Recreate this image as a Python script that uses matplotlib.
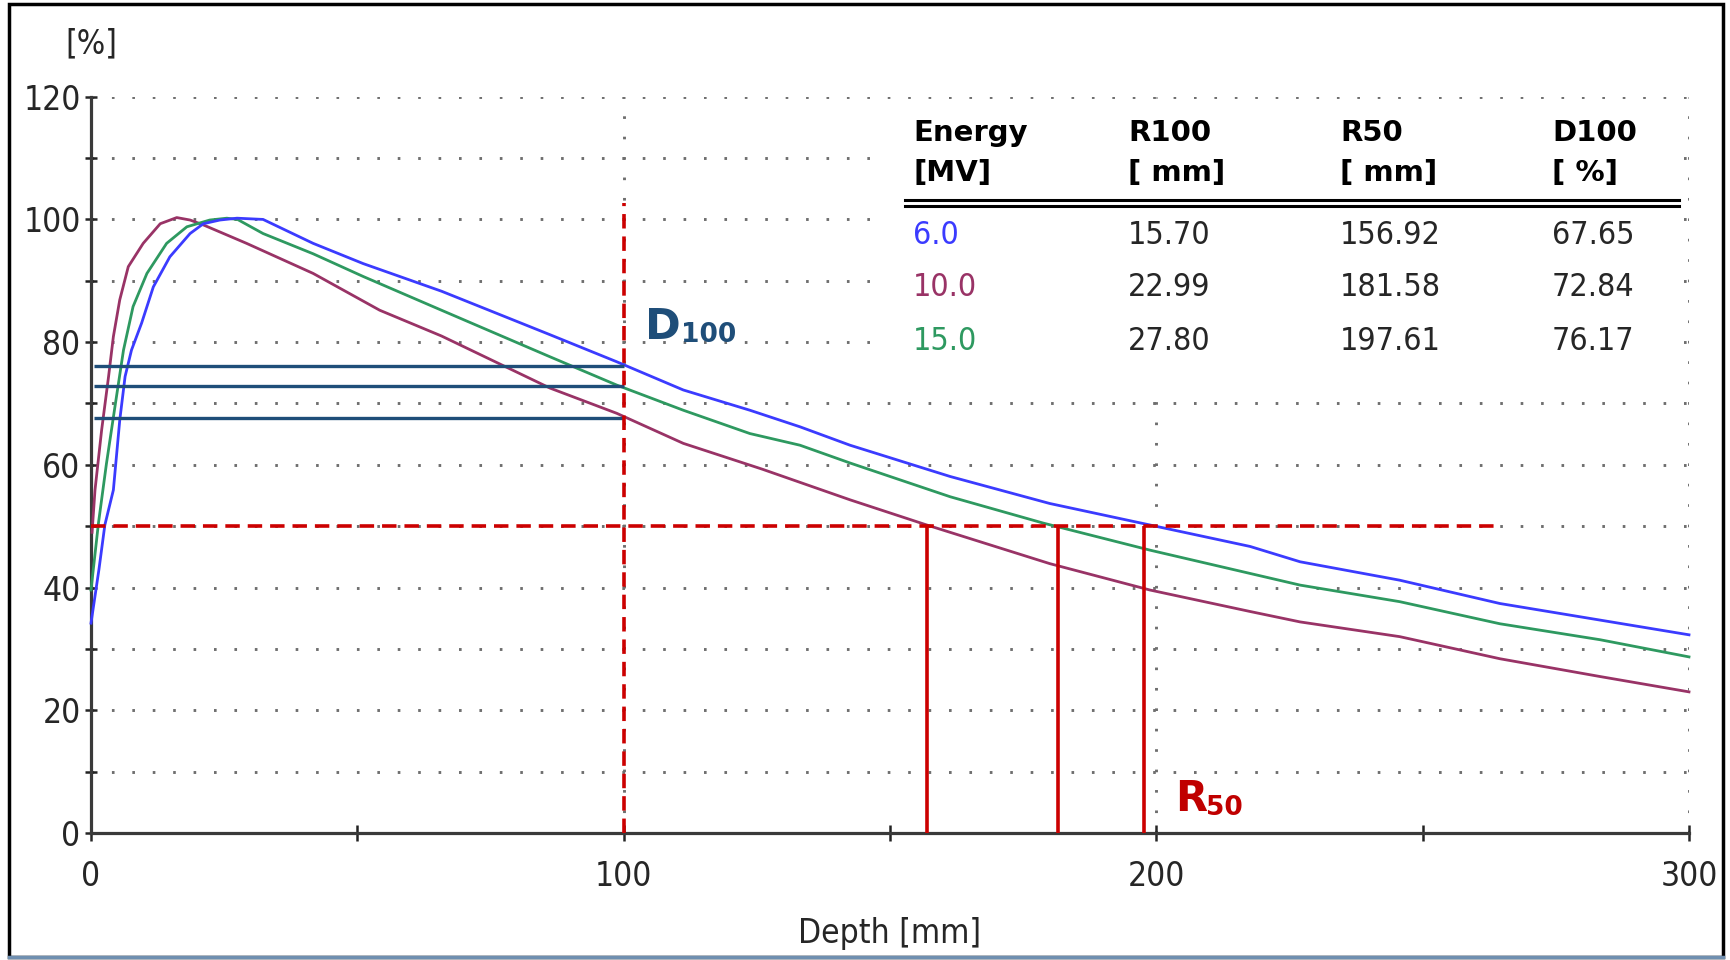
import matplotlib
matplotlib.use("Agg")
import matplotlib.pyplot as plt
from matplotlib.patches import Rectangle
from matplotlib.lines import Line2D
from matplotlib.ticker import MultipleLocator

# depth dose curves (depth in mm, dose in %)
blue_x = [0, 1.5, 2.6, 4.2, 5.4, 6.4, 7.6, 9.5, 11.7, 14.8, 18.6, 21.1, 24.2, 27.4, 32.3, 41.7, 51.1,
          65.8, 86.2, 98.7, 111.2, 123.7, 133.1, 142.5, 161.3, 180.0, 198.8, 217.6, 227.0, 245.7,
          264.5, 283.3, 300]
blue_y = [34.2, 43.0, 50.2, 55.9, 67.3, 74.4, 78.7, 83.1, 89.0, 93.9, 97.7, 99.3, 99.9, 100.2, 100.0,
          96.1, 92.8, 88.3, 81.2, 76.8, 72.2, 68.9, 66.2, 63.2, 58.1, 53.7, 50.2, 46.7, 44.2, 41.2,
          37.4, 34.7, 32.3]

green_x = [0, 1.4, 2.9, 4.5, 6.1, 7.9, 10.5, 14.2, 18.0, 22.3, 25.5, 27.5, 32.3, 41.7, 51.1, 65.8,
           86.2, 98.7, 111.2, 123.7, 133.1, 142.5, 161.3, 178.8, 198.8, 217.6, 227.0, 245.7, 264.5,
           283.3, 300]
green_y = [39.6, 50.5, 60.2, 69.5, 78.7, 85.8, 91.2, 96.1, 98.8, 99.9, 100.2, 100.0, 97.7, 94.4, 90.7,
           85.2, 77.6, 73.0, 68.9, 65.1, 63.2, 60.3, 54.8, 50.5, 46.1, 42.3, 40.4, 37.7, 34.1, 31.5,
           28.7]

purple_x = [0.2, 0.75, 2.0, 3.3, 4.2, 5.4, 7.0, 9.8, 13.0, 16.1, 18.6, 21.1, 29.2, 41.7, 54.2, 65.8,
            86.2, 98.7, 111.2, 126.0, 142.5, 156.9, 180.0, 198.8, 217.6, 227.0, 245.7, 264.5, 283.3,
            300]
purple_y = [49.0, 55.9, 65.7, 74.4, 80.9, 86.9, 92.3, 96.1, 99.3, 100.3, 99.9, 99.1, 96.1, 91.2, 85.2,
            81.0, 72.5, 68.4, 63.5, 59.3, 54.3, 50.2, 43.9, 39.6, 36.1, 34.4, 32.0, 28.4, 25.5, 23.0]

# table values
energies = ["6.0", "10.0", "15.0"]
r100 = ["15.70", "22.99", "27.80"]
r50 = [156.92, 181.58, 197.61]
d100 = [67.65, 72.84, 76.17]
energy_colors = ["#3b3bff", "#993366", "#2e9960"]

# narrow text like the plotting software uses
cond = dict(family="DejaVu Sans", fontstretch="condensed")
txt_col = "#262626"

fig = plt.figure(figsize=(17.3, 9.6), dpi=100)
ax = fig.add_axes([91 / 1730, 1 - 833 / 960, 1598 / 1730, 736.3 / 960])
ax.set_xlim(0, 300)
ax.set_ylim(0, 120)

# axes and ticks
for s in ["top", "right"]:
    ax.spines[s].set_visible(False)
for s in ["left", "bottom"]:
    ax.spines[s].set_color("#3a3a3a")
    ax.spines[s].set_linewidth(2.3)
ax.xaxis.set_major_locator(MultipleLocator(100))
ax.xaxis.set_minor_locator(MultipleLocator(50))
ax.yaxis.set_major_locator(MultipleLocator(20))
ax.yaxis.set_minor_locator(MultipleLocator(10))
ax.tick_params(which="both", direction="inout", length=11, width=1.8, color="#222222")
ax.tick_params(axis="y", which="both", length=9)
ax.tick_params(labelsize=24, colors=txt_col)
ax.tick_params(axis="x", pad=14)
ax.tick_params(axis="y", pad=3)
for lab in ax.get_xticklabels() + ax.get_yticklabels():
    lab.set_fontstretch("condensed")

# dotted grid
ax.set_axisbelow(True)
ax.grid(axis="y", which="both", color="#6e6e6e", linestyle=(0, (0.9, 6.1)), linewidth=2.1)
ax.grid(axis="x", which="major", color="#6e6e6e", linestyle=(0, (0.9, 6.1)), linewidth=2.1)

# white box behind the table
ax.add_patch(Rectangle((148.7, 71.9), 148.3, 46.7, facecolor="white", edgecolor="none", zorder=1))

# curves
ax.plot(purple_x, purple_y, color="#993366", lw=2.0, zorder=3, clip_on=False)
ax.plot(green_x, green_y, color="#2e9960", lw=2.0, zorder=3, clip_on=False)
ax.plot(blue_x, blue_y, color="#3b3bff", lw=2.0, zorder=3, clip_on=False)

# D100 markers
for v in d100:
    ax.plot([0.5, 100], [v, v], color="#1f4e79", lw=2.4, zorder=4, solid_capstyle="butt")
ax.plot([100, 100], [0, 102.7], color="#cc0000", lw=2.6, linestyle=(0, (4, 2.2)), zorder=5)

# R50 markers
ax.plot([0, 264], [50, 50], color="#cc0000", lw=2.6, linestyle=(0, (4, 2.2)), zorder=5)
for v in r50:
    ax.plot([v, v], [0, 50], color="#cc0000", lw=2.6, zorder=5, solid_capstyle="butt")

ax.text(104.0, 80.5, "D", color="#1f4e79", fontsize=31, fontweight="bold", va="baseline", zorder=6)
ax.text(110.8, 80.0, "100", color="#1f4e79", fontsize=19, fontweight="bold", va="baseline", zorder=6)
ax.text(203.5, 3.6, "R", color="#c00000", fontsize=30, fontweight="bold", va="baseline", zorder=6)
ax.text(209.4, 3.0, "50", color="#c00000", fontsize=19, fontweight="bold", va="baseline", zorder=6)

# axis titles
fig.text(91 / 1730, 1 - 44 / 960, "[%]", fontsize=24, color=txt_col, ha="center", va="center", **cond)
fig.text(890 / 1730, 1 - 934 / 960, "Depth [mm]", fontsize=24, color=txt_col, ha="center", va="center",
         **cond)


def px(x, y):
    return x / 1730, 1 - y / 960


# table
col_x = [913, 1128, 1340, 1552]
head1 = ["Energy", "R100", "R50", "D100"]
head2 = ["[MV]", "[ mm]", "[ mm]", "[ %]"]
for cx, h1, h2 in zip(col_x, head1, head2):
    fig.text(*px(cx, 133), h1, fontsize=21, fontweight="bold", ha="left", va="center")
    fig.text(*px(cx, 173), h2, fontsize=21, fontweight="bold", ha="left", va="center")
for yy in [200, 206]:
    fig.add_artist(Line2D([905 / 1730, 1679 / 1730], [1 - yy / 960] * 2, color="black", lw=2.2))
row_y = [235, 288, 341]
for ry, e, a, b, c, col in zip(row_y, energies, r100, r50, d100, energy_colors):
    fig.text(*px(col_x[0], ry), e, fontsize=23, color=col, ha="left", va="center", **cond)
    fig.text(*px(col_x[1], ry), a, fontsize=23, color=txt_col, ha="left", va="center", **cond)
    fig.text(*px(col_x[2], ry), "%.2f" % b, fontsize=23, color=txt_col, ha="left", va="center", **cond)
    fig.text(*px(col_x[3], ry), "%.2f" % c, fontsize=23, color=txt_col, ha="left", va="center", **cond)

# outer frame
fig.add_artist(Rectangle((9 / 1730, 1 - 957 / 960), 1714 / 1730, 953 / 960, transform=fig.transFigure,
                         facecolor="none", edgecolor="black", lw=2.5))
fig.add_artist(Line2D([9 / 1730, 1723 / 1730], [1 - 957 / 960] * 2, color="#6f8fb0", lw=2.5))

fig.savefig("out.png", dpi=100)
